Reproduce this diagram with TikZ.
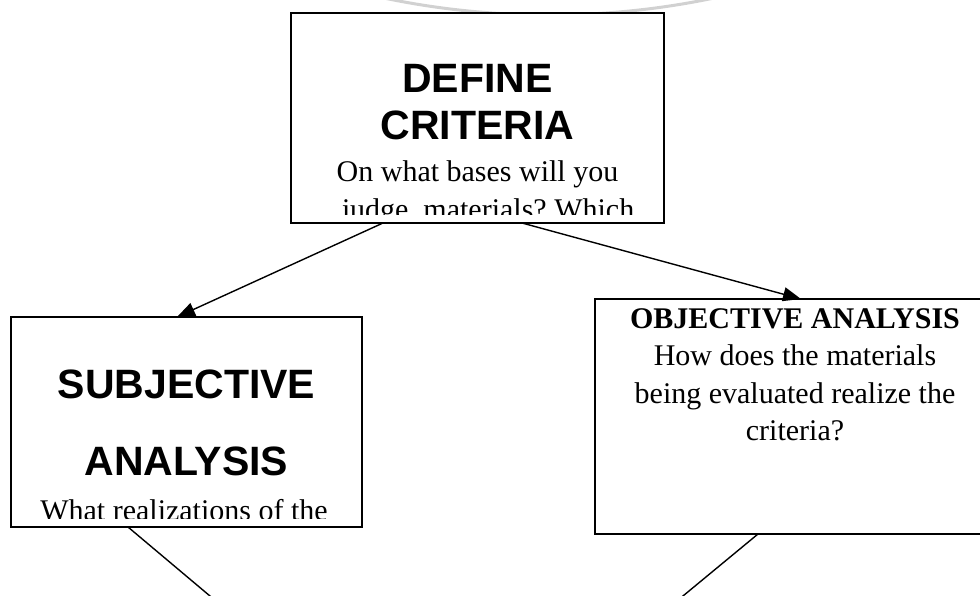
\documentclass[tikz,border=0pt]{standalone}
\usepackage{fontspec}
\setmainfont{Liberation Serif}
\newfontfamily\headfont{Liberation Sans}
\usetikzlibrary{arrows.meta}

\begin{document}
\begin{tikzpicture}[x=1pt,y=-1pt,
  box/.style={draw=black, line width=1.6pt, fill=white, rectangle, inner sep=0pt, outer sep=0pt},
  head/.style={font=\headfont\bfseries\fontsize{41}{45}\selectfont, anchor=base, inner sep=0pt},
  body/.style={font=\fontsize{30}{37}\selectfont, anchor=base, inner sep=0pt},
  bodybold/.style={body, font=\bfseries\fontsize{30}{37}\selectfont},
  link/.style={line width=1.4pt, -{Triangle[length=18pt,width=14pt]}},
  tail/.style={line width=1.4pt},
  ring/.style={draw=black!18, line width=3pt}
]
\clip (0,0) rectangle (980,596);

% faint ring in the page background
\draw[ring] (549,-788) circle [radius=803pt];

% the three boxes
\node[box, minimum width=373pt, minimum height=210pt] (def) at (477.5,118) {};
\node[box, minimum width=351pt, minimum height=210pt] (subj) at (186.5,422) {};
\node[box, minimum width=420pt, minimum height=235pt] (obj) at (805,416.5) {};

% text of the top box, cut off at its lower edge
\begin{scope}
  \clip (292,14) rectangle (663,215);
  \node[head] (defA) at (477.5,93) {DEFINE};
  \node[head] (defB) at (477.5,140) {CRITERIA};
  \node[body] (defC) at (477.5,182) {On what bases will you};
  \node[body] (defD) at (488,220) {judge\ \ materials?\ Which};
\end{scope}

% text of the left box, cut off at its lower edge
\begin{scope}
  \clip (12,318) rectangle (361,518);
  \node[head] (subjA) at (186.5,398) {SUBJECTIVE};
  \node[head] (subjB) at (186.5,475) {ANALYSIS};
  \node[body] (subjC) at (184,520) {What realizations of the};
\end{scope}

% text of the right box
\node[bodybold] (objA) at (795,328) {OBJECTIVE ANALYSIS};
\node[body] (objB) at (795,365) {How does the materials};
\node[body] (objC) at (795,403) {being evaluated realize the};
\node[body] (objD) at (795,440) {criteria?};

% arrows from the top box
\draw[link] ([xshift=-94.5pt]def.south) -- ([xshift=-9.5pt]subj.north);
\draw[link] ([xshift=44.5pt]def.south) -- ([xshift=-4pt]obj.north);

% lines leaving the lower boxes
\coordinate (endL) at (226.6,610);
\coordinate (endR) at (666,610);
\draw[tail] ([xshift=-58.5pt]subj.south) -- (endL);
\draw[tail] ([xshift=-47pt]obj.south) -- (endR);
\end{tikzpicture}
\end{document}
